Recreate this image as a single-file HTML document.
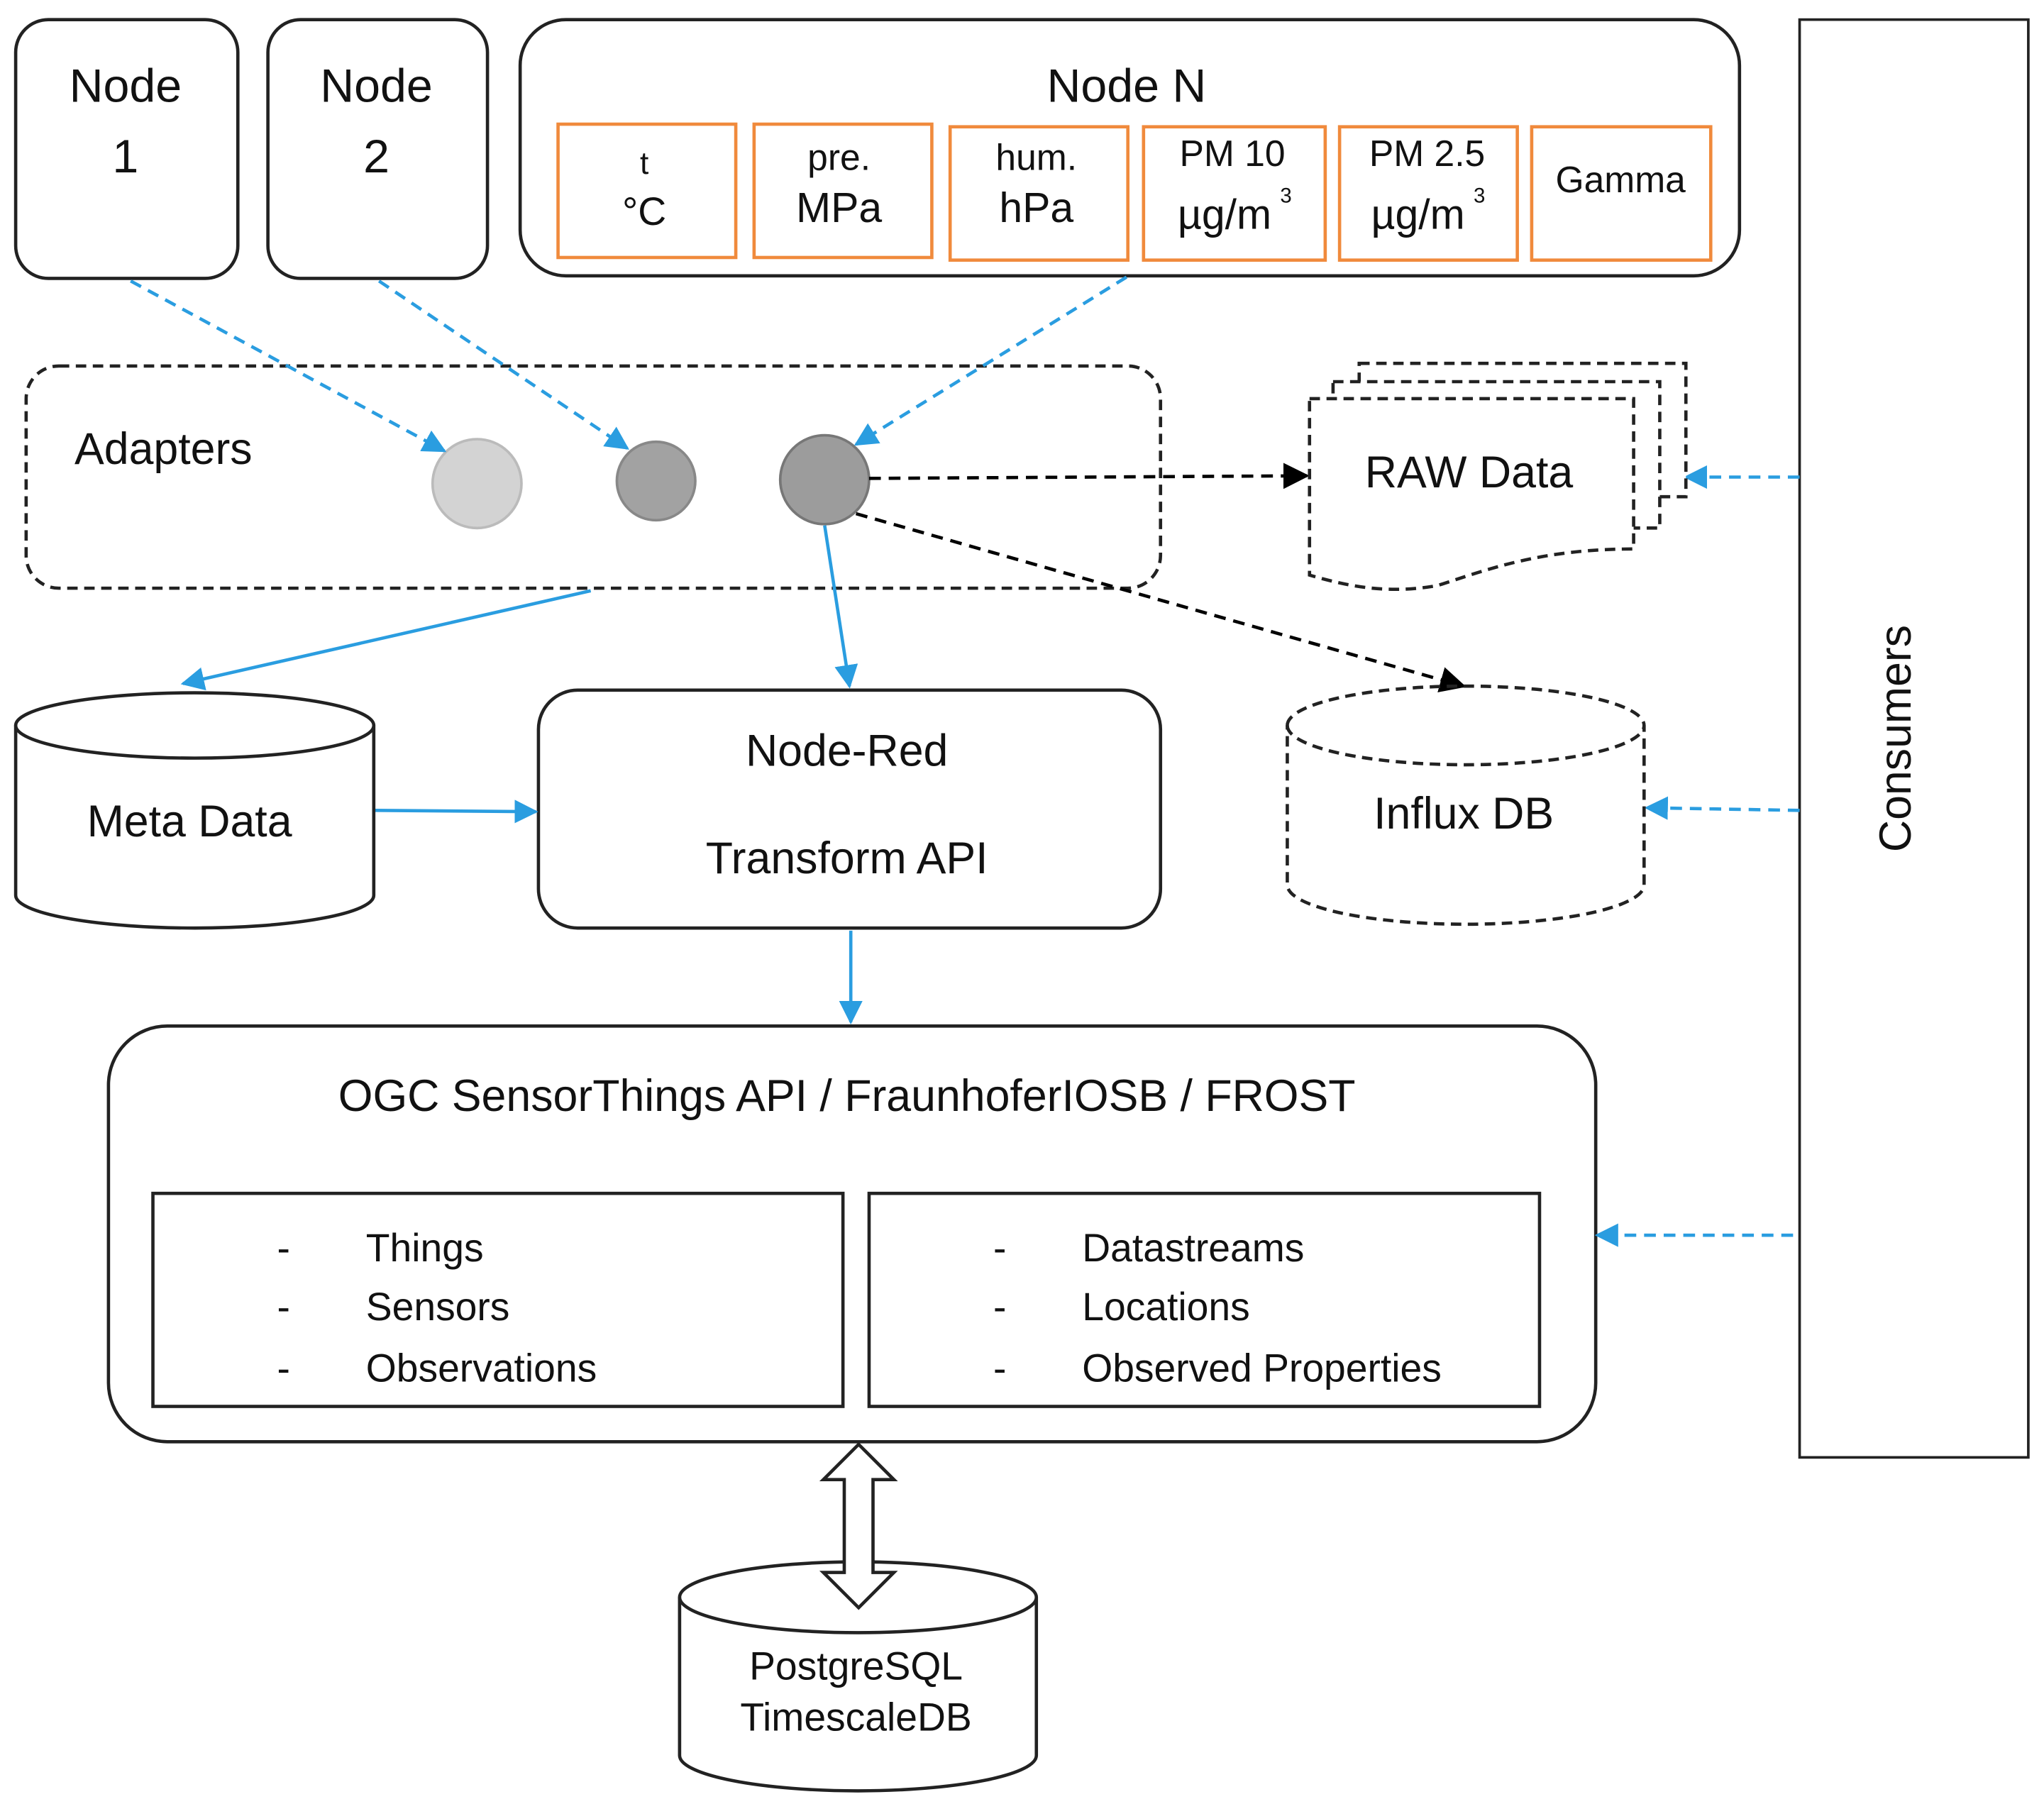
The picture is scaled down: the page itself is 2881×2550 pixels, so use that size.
<!DOCTYPE html>
<html><head><meta charset="utf-8"><style>html,body{margin:0;padding:0;background:#fff}svg{display:block}text{font-family:"Liberation Sans",sans-serif;fill:#111}</style></head>
<body>
<svg width="2881" height="2550" viewBox="0 0 1564 1384" preserveAspectRatio="none" xmlns="http://www.w3.org/2000/svg">
<defs>
<marker id="bA" markerWidth="10" markerHeight="10" refX="9" refY="5" orient="auto" markerUnits="userSpaceOnUse"><path d="M0,0 L18,5 L0,10 z" fill="#2a9de0" transform="scale(0.55,1)"/></marker>
<marker id="bB" viewBox="0 0 10 10" markerWidth="18" markerHeight="18" refX="9" refY="5" orient="auto" markerUnits="userSpaceOnUse"><path d="M0,0 L10,5 L0,10 z" fill="#2a9de0"/></marker>
<marker id="kB" viewBox="0 0 10 10" markerWidth="20" markerHeight="20" refX="9" refY="5" orient="auto" markerUnits="userSpaceOnUse"><path d="M0,0 L10,5 L0,10 z" fill="#000"/></marker>
</defs>
<g fill="none" stroke="#222" stroke-width="2.5">
<rect x="12" y="15" width="170" height="198" rx="25"/>
<rect x="205" y="15" width="168" height="198" rx="25"/>
<rect x="398" y="15" width="933" height="196" rx="35"/>
<rect x="1377" y="15" width="175" height="1100" stroke-width="2"/>
<rect x="20" y="280" width="868" height="170" rx="25" stroke-dasharray="8,5"/>
<rect x="412" y="528" width="476" height="182" rx="30"/>
<rect x="83" y="785" width="1138" height="318" rx="45"/>
<rect x="117" y="913" width="528" height="163"/>
<rect x="665" y="913" width="513" height="163"/>
</g>
<g fill="none" stroke="#f08a3c" stroke-width="2.5">
<rect x="427" y="95" width="136" height="102"/><rect x="577" y="95" width="136" height="102"/>
<rect x="727" y="97" width="136" height="102"/><rect x="875" y="97" width="139" height="102"/>
<rect x="1025" y="97" width="136" height="102"/><rect x="1172" y="97" width="137" height="102"/>
</g>
<g font-size="36" text-anchor="middle">
<text x="96" y="78">Node</text><text x="96" y="132">1</text>
<text x="288" y="78">Node</text><text x="288" y="132">2</text>
<text x="862" y="78">Node N</text>
</g>
<g font-size="28" text-anchor="middle">
<text x="493" y="133" font-size="24">t</text><text x="493" y="172" font-size="30">°C</text>
<text x="642" y="130">pre.</text><text x="642" y="170" font-size="32">MPa</text>
<text x="793" y="130">hum.</text><text x="793" y="170" font-size="32">hPa</text>
<text x="943" y="127">PM 10</text><text x="937" y="175" font-size="32">µg/m</text><text x="984" y="155" font-size="16">3</text>
<text x="1092" y="127">PM 2.5</text><text x="1085" y="175" font-size="32">µg/m</text><text x="1132" y="155" font-size="16">3</text>
<text x="1240" y="147">Gamma</text>
</g>
<text x="1462" y="565" font-size="34" text-anchor="middle" transform="rotate(-90 1462 565)">Consumers</text>
<text x="57" y="355" font-size="34">Adapters</text>
<circle cx="365" cy="370" r="34" fill="#d3d3d3" stroke="#bbb" stroke-width="2"/>
<circle cx="502" cy="368" r="30" fill="#a2a2a2" stroke="#888" stroke-width="2"/>
<circle cx="631" cy="367" r="34" fill="#9c9c9c" stroke="#777" stroke-width="2"/>
<g stroke="#2a9de0" stroke-width="2.5" stroke-dasharray="9,6" fill="none">
<line x1="100" y1="215" x2="340" y2="345" marker-end="url(#bB)"/>
<line x1="290" y1="215" x2="480" y2="343" marker-end="url(#bB)"/>
<line x1="862" y1="212" x2="655" y2="340" marker-end="url(#bB)"/>
<line x1="1377" y1="365" x2="1290" y2="365" marker-end="url(#bB)"/>
<line x1="1377" y1="620" x2="1260" y2="618" marker-end="url(#bB)"/>
<line x1="1372" y1="945" x2="1222" y2="945" marker-end="url(#bB)"/>
</g>
<g stroke="#2a9de0" stroke-width="2.5" fill="none">
<line x1="452" y1="452" x2="140" y2="523" marker-end="url(#bB)"/>
<line x1="631" y1="402" x2="650" y2="525" marker-end="url(#bB)"/>
<line x1="287" y1="620" x2="410" y2="621" marker-end="url(#bB)"/>
<line x1="651" y1="712" x2="651" y2="782" marker-end="url(#bB)"/>
</g>
<g stroke="#000" stroke-width="2.5" stroke-dasharray="9,6" fill="none">
<line x1="665" y1="366" x2="1000" y2="364" marker-end="url(#kB)"/>
<line x1="655" y1="393" x2="1120" y2="525" marker-end="url(#kB)"/>
</g>
<g fill="#fff" stroke="#222" stroke-width="2.5" stroke-dasharray="8,5">
<rect x="1040" y="278" width="250" height="102"/>
<rect x="1020" y="292" width="250" height="112"/>
<path d="M1002,305 L1250,305 L1250,420 C1180,420 1140,435 1100,448 C1060,455 1030,448 1002,440 Z"/>
</g>
<text x="1124" y="373" font-size="34" text-anchor="middle">RAW Data</text>
<g fill="none" stroke="#222" stroke-width="2.5">
<path d="M12,555 A137,25 0 0 1 286,555 L286,685 A137,25 0 0 1 12,685 Z"/>
<path d="M12,555 A137,25 0 0 0 286,555"/>
<path d="M520,1222 A136,27 0 0 1 793,1222 L793,1343 A136,27 0 0 1 520,1343 Z"/>
<path d="M520,1222 A136,27 0 0 0 793,1222"/>
<g stroke-dasharray="8,5">
<path d="M985,555 A136,30 0 0 1 1258,555 L1258,677 A136,30 0 0 1 985,677 Z"/>
<path d="M985,555 A136,30 0 0 0 1258,555"/>
</g>
</g>
<path d="M657,1105 L684,1132 L668,1132 L668,1203 L684,1203 L657,1230 L630,1203 L646,1203 L646,1132 L630,1132 Z" fill="#fff" stroke="#222" stroke-width="2.5"/>
<g font-size="34" text-anchor="middle">
<text x="145" y="640">Meta Data</text>
<text x="648" y="586">Node-Red</text>
<text x="648" y="668">Transform API</text>
<text x="1120" y="634">Influx DB</text>
<text x="648" y="850">OGC SensorThings API / FraunhoferIOSB / FROST</text>
</g>
<g font-size="30" text-anchor="middle"><text x="655" y="1285">PostgreSQL</text><text x="655" y="1324">TimescaleDB</text></g>
<g font-size="30">
<text x="212" y="965">-</text><text x="280" y="965">Things</text>
<text x="212" y="1010">-</text><text x="280" y="1010">Sensors</text>
<text x="212" y="1057">-</text><text x="280" y="1057">Observations</text>
<text x="760" y="965">-</text><text x="828" y="965">Datastreams</text>
<text x="760" y="1010">-</text><text x="828" y="1010">Locations</text>
<text x="760" y="1057">-</text><text x="828" y="1057">Observed Properties</text>
</g>
</svg>
</body></html>
